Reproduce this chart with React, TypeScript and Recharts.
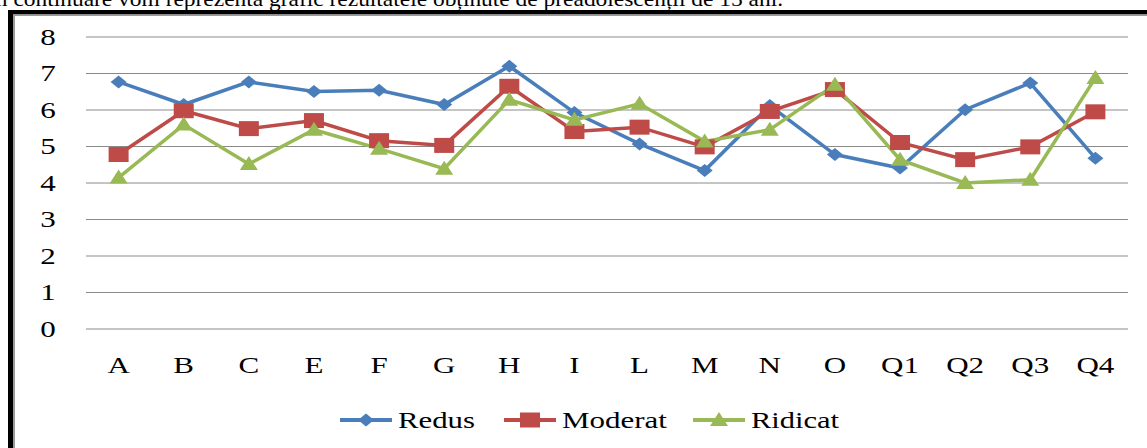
import React from 'react';
import { LineChart, Line, XAxis, YAxis, CartesianGrid, Legend } from 'recharts';

const categories = ['A', 'B', 'C', 'E', 'F', 'G', 'H', 'I', 'L', 'M', 'N', 'O', 'Q1', 'Q2', 'Q3', 'Q4'];
const redus = [6.77, 6.15, 6.77, 6.51, 6.54, 6.15, 7.2, 5.93, 5.07, 4.34, 6.12, 4.78, 4.41, 6.01, 6.74, 4.68];
const moderat = [4.78, 5.98, 5.49, 5.71, 5.16, 5.03, 6.65, 5.41, 5.53, 4.99, 5.96, 6.56, 5.11, 4.64, 4.99, 5.95];
const ridicat = [4.15, 5.6, 4.52, 5.46, 4.94, 4.39, 6.28, 5.73, 6.17, 5.14, 5.46, 6.69, 4.64, 4.0, 4.09, 6.88];
const yTicks = [0, 1, 2, 3, 4, 5, 6, 7, 8];
const seriesNames = ['Redus', 'Moderat', 'Ridicat'];
const seriesColors = ['#4A7EBB', '#BE4B48', '#98B954'];
const headingText = 'În continuare vom reprezenta grafic rezultatele obținute de preadolescenții de 15 ani.';

const data = categories.map((c, i) => ({ cat: c, Redus: redus[i], Moderat: moderat[i], Ridicat: ridicat[i] }));

const FONT = '"Liberation Serif", "Times New Roman", serif';
const SX = 1.35;

const markerPath = (shape: string, cx: number, cy: number) => {
  if (shape === 'diamond') return `M${cx - 8},${cy} L${cx},${cy - 6.5} L${cx + 8},${cy} L${cx},${cy + 6.5} Z`;
  if (shape === 'square') return `M${cx - 10},${cy - 7.5} H${cx + 10} V${cy + 7.5} H${cx - 10} Z`;
  return `M${cx},${cy - 8} L${cx + 9},${cy + 6} L${cx - 9},${cy + 6} Z`;
};

const shapes = ['diamond', 'square', 'triangle'];

const makeDot = (shape: string, color: string) => (props: any) => {
  const { cx, cy, index } = props;
  if (cx == null || cy == null) return <g key={`d-${shape}-${index}`} />;
  return <path key={`d-${shape}-${index}`} d={markerPath(shape, cx, cy)} fill={color} stroke="none" />;
};

const YTick = (props: any) => {
  const { x, y, payload } = props;
  return (
    <g transform={`translate(${x - 38},${y})`}>
      <text transform={`scale(${SX},1)`} textAnchor="middle" dy="0.34em" fontFamily={FONT} fontSize={23} fill="#000">
        {payload.value}
      </text>
    </g>
  );
};

const XTick = (props: any) => {
  const { x, y, payload } = props;
  return (
    <g transform={`translate(${x},${y + 43.5})`}>
      <text transform={`scale(${SX},1)`} textAnchor="middle" fontFamily={FONT} fontSize={23} fill="#000">
        {payload.value}
      </text>
    </g>
  );
};

const legendStarts = [340, 504, 693];
const legendTextWidths = [77, 105, 88];

const LegendContent = () => (
  <svg width={1147} height={40} style={{ display: 'block' }}>
    {seriesNames.map((name, i) => {
      const s = legendStarts[i];
      return (
        <g key={name}>
          <line x1={s} y1={20} x2={s + 52} y2={20} stroke={seriesColors[i]} strokeWidth={4} />
          <path d={markerPath(shapes[i], s + 26, 20)} fill={seriesColors[i]} />
          <text x={s + 58} y={27.5} fontFamily={FONT} fontSize={22.5} fill="#000" textLength={legendTextWidths[i]} lengthAdjust="spacingAndGlyphs">
            {name}
          </text>
        </g>
      );
    })}
  </svg>
);

export default function App() {
  return (
    <div style={{ position: 'absolute', left: 0, top: 0, width: 1147, height: 448, overflow: 'hidden', background: '#fff' }}>
      <LineChart width={1147} height={448} data={data} margin={{ top: 37, right: 19, left: 0, bottom: 29 }}>
        <CartesianGrid vertical={false} stroke="#8a8a8a" strokeWidth={1} />
        <XAxis
          dataKey="cat"
          axisLine={false}
          tickLine={false}
          tickSize={0}
          tickMargin={0}
          height={50}
          interval={0}
          padding={{ left: 32.6, right: 32.6 }}
          tick={<XTick />}
        />
        <YAxis
          width={86}
          domain={[0, 8]}
          ticks={yTicks}
          interval={0}
          axisLine={false}
          tickLine={false}
          tickSize={0}
          tickMargin={0}
          tick={<YTick />}
        />
        <Legend content={<LegendContent />} wrapperStyle={{ left: 0, top: 400, width: 1147, height: 40 }} />
        {seriesNames.map((name, i) => (
          <Line
            key={name}
            dataKey={name}
            type="linear"
            stroke={seriesColors[i]}
            strokeWidth={3.5}
            dot={makeDot(shapes[i], seriesColors[i])}
            activeDot={false}
            isAnimationActive={false}
          />
        ))}
      </LineChart>
      <svg width={1147} height={448} style={{ position: 'absolute', left: 0, top: 0, pointerEvents: 'none' }}>
        <text x={-12} y={5.5} fontFamily={FONT} fontSize={22} fill="#000" textLength={795} lengthAdjust="spacingAndGlyphs">
          {headingText}
        </text>
        <rect x={8} y={10} width={1139} height={4.5} fill="#000" />
        <rect x={13} y={14.5} width={1134} height={1.5} fill="#9a9a9a" />
        <rect x={8} y={10} width={5} height={438} fill="#000" />
        <rect x={13} y={14.5} width={2} height={434} fill="#9a9a9a" />
      </svg>
    </div>
  );
}
